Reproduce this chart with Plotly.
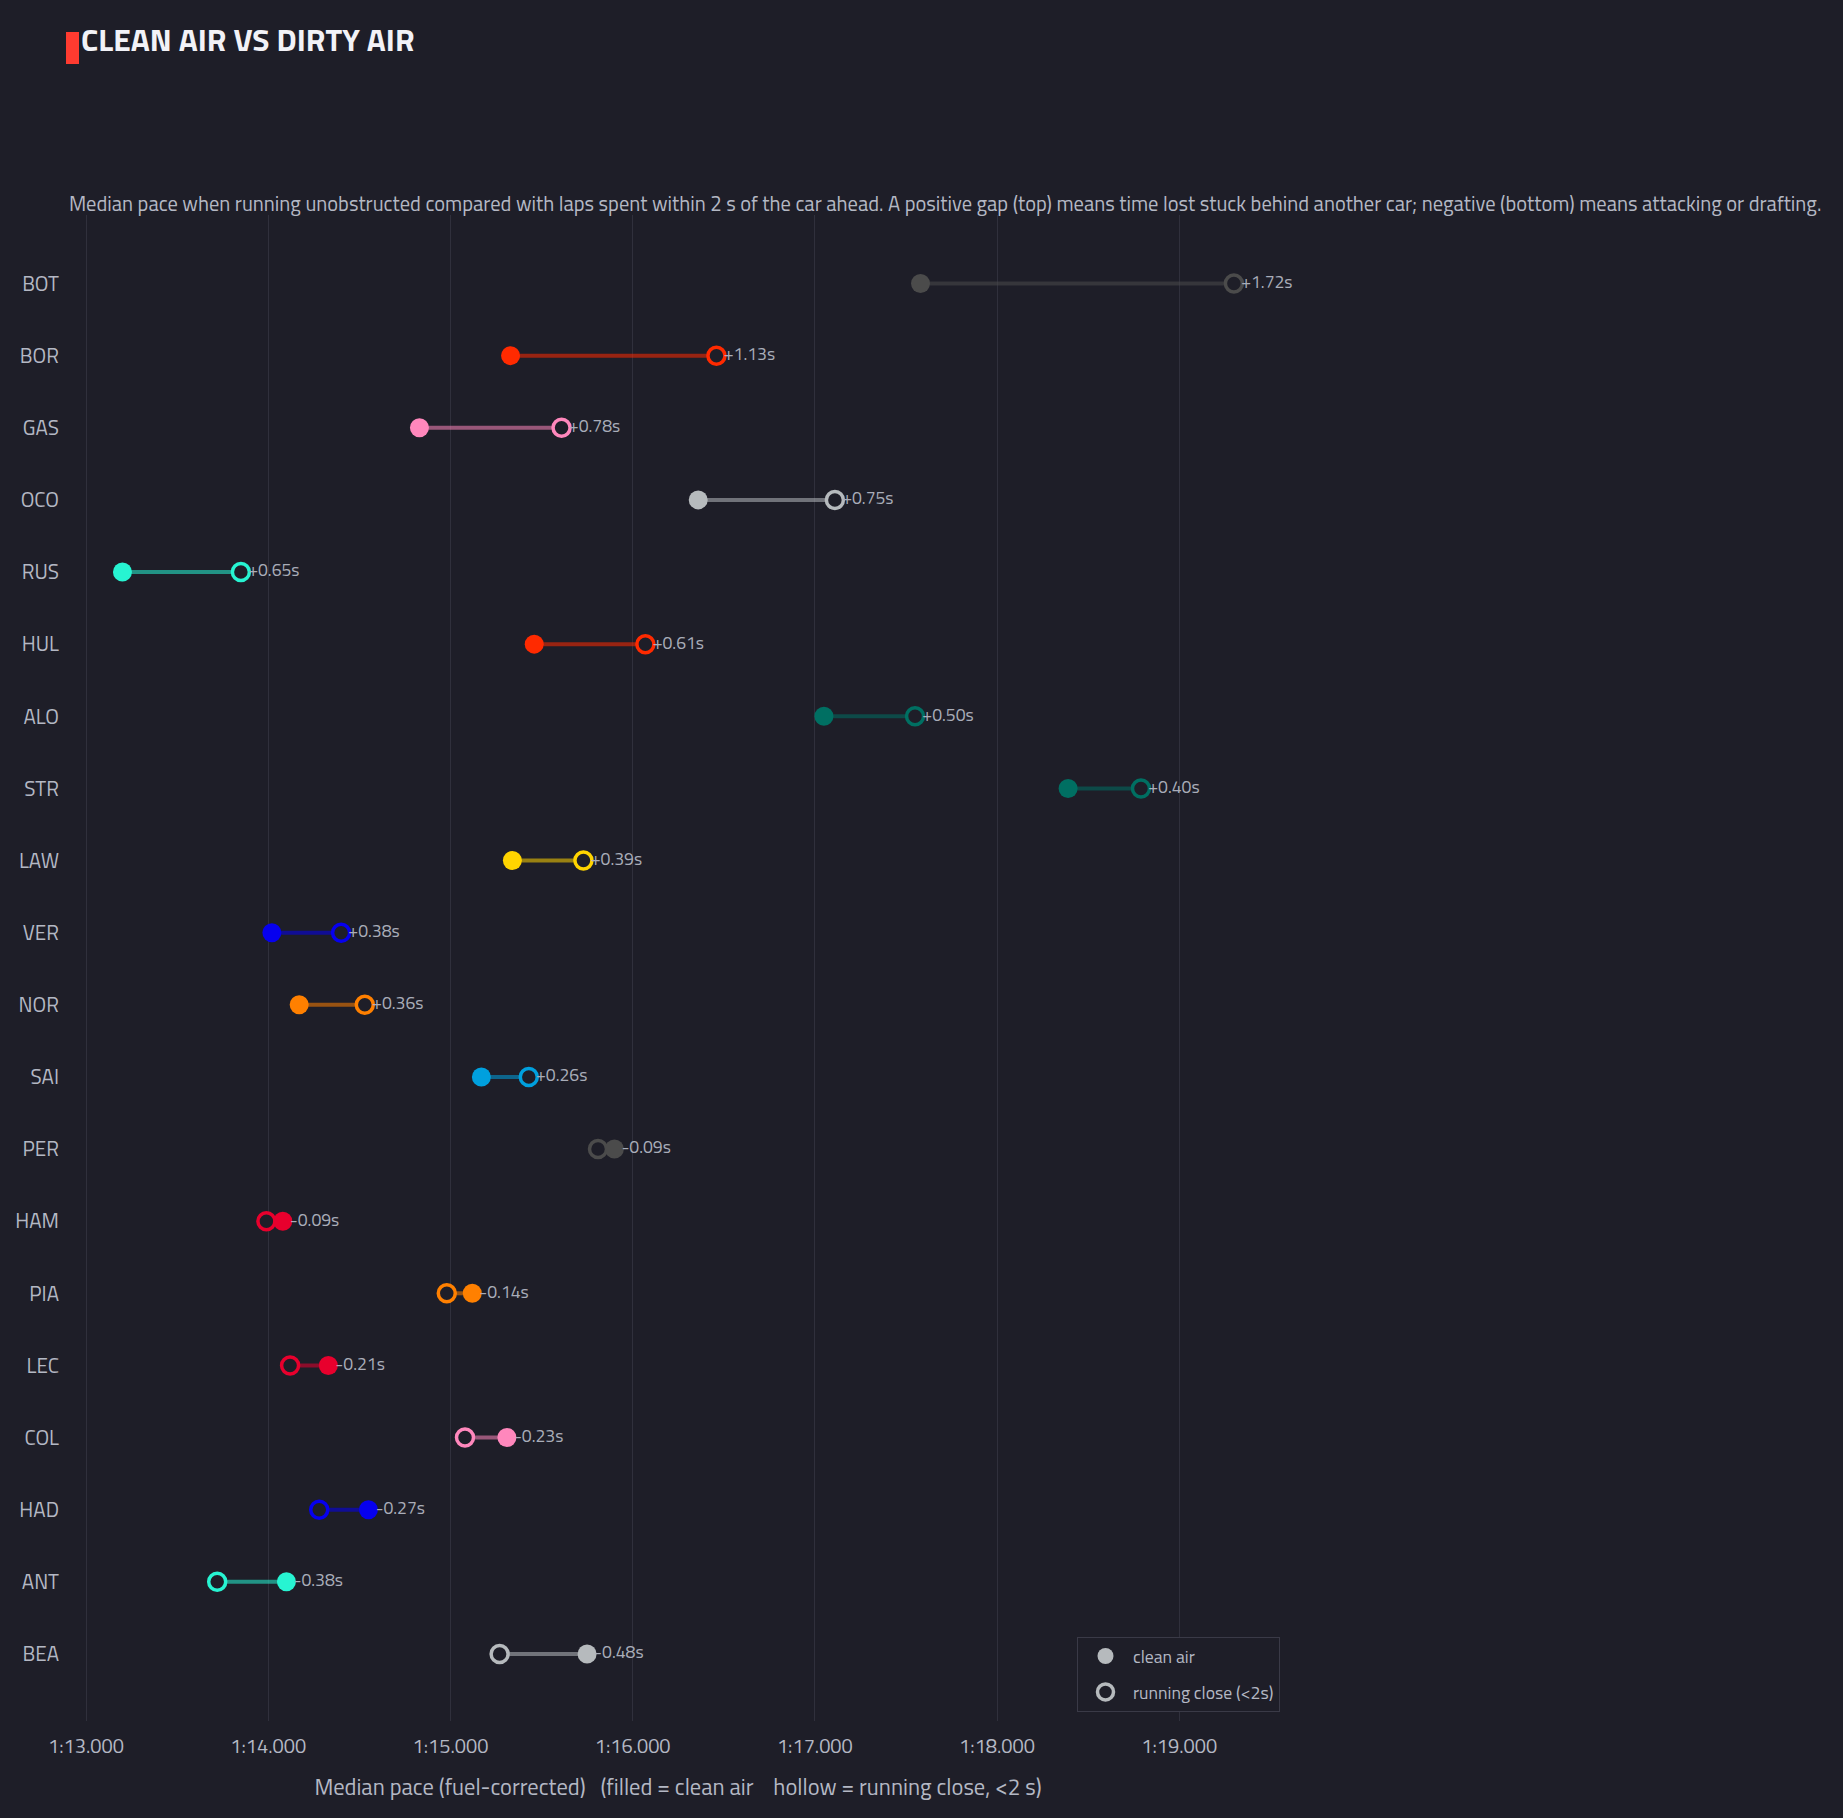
import plotly.graph_objects as go

# ---------------- data ----------------
drivers = ["BOT", "BOR", "GAS", "OCO", "RUS", "HUL", "ALO", "STR", "LAW", "VER",
           "NOR", "SAI", "PER", "HAM", "PIA", "LEC", "COL", "HAD", "ANT", "BEA"]
# median pace in seconds (fuel-corrected)
clean_pace = [77.58, 75.33, 74.83, 76.36, 73.20, 75.46, 77.05, 78.39, 75.34, 74.02,
              74.17, 75.17, 75.90, 74.08, 75.12, 74.33, 75.31, 74.55, 74.10, 75.75]
close_pace = [79.30, 76.46, 75.61, 77.11, 73.85, 76.07, 77.55, 78.79, 75.73, 74.40,
              74.53, 75.43, 75.81, 73.99, 74.98, 74.12, 75.08, 74.28, 73.72, 75.27]
team_colors = ["#4B4B4B", "#FF2A00", "#FF87BC", "#B6BABD", "#27F4D2", "#FF2A00",
               "#006F62", "#006F62", "#FFD400", "#0600EF", "#FF8000", "#00A0DE",
               "#4B4B4B", "#E8002D", "#FF8000", "#E8002D", "#FF87BC", "#0600EF",
               "#27F4D2", "#B6BABD"]
tick_vals = [73, 74, 75, 76, 77, 78, 79]
tick_text = ["1:13.000", "1:14.000", "1:15.000", "1:16.000", "1:17.000", "1:18.000", "1:19.000"]

# ---------------- style ----------------
BG = "#1e1e28"
FONT = "Titillium Web, Lato, sans-serif"
TXT = "#b4b8c4"
W, H = 1843, 1818
L, R, T, B = 76, 563, 215, 97
PW, PH = W - L - R, H - T - B


def rgba(hx, a):
    hx = hx.lstrip("#")
    r, g, b = int(hx[0:2], 16), int(hx[2:4], 16), int(hx[4:6], 16)
    return f"rgba({r},{g},{b},{a})"


fig = go.Figure()

# connecting lines
for d, c0, c1, col in zip(drivers, clean_pace, close_pace, team_colors):
    fig.add_trace(go.Scatter(x=[c0, c1], y=[d, d], mode="lines",
                             line=dict(color=rgba(col, 0.55), width=4),
                             showlegend=False, hoverinfo="skip"))

# hollow = running close
fig.add_trace(go.Scatter(x=close_pace, y=drivers, mode="markers",
                         marker=dict(size=17, color=BG,
                                     line=dict(color=team_colors, width=3.5)),
                         showlegend=False, name="running close"))
# filled = clean air
fig.add_trace(go.Scatter(x=clean_pace, y=drivers, mode="markers",
                         marker=dict(size=19, color=team_colors, line=dict(width=0)),
                         showlegend=False, name="clean air"))

# gap labels
label_x = [max(a, b) for a, b in zip(clean_pace, close_pace)]
labels = [f"{b - a:+.2f}s" for a, b in zip(clean_pace, close_pace)]
fig.add_trace(go.Scatter(x=label_x, y=drivers, mode="markers+text", text=labels,
                         textposition="middle right", cliponaxis=False,
                         marker=dict(size=10, color="rgba(0,0,0,0)"),
                         textfont=dict(size=17.6, color="#a9adb9", family=FONT),
                         showlegend=False, hoverinfo="skip"))

# legend entries
fig.add_trace(go.Scatter(x=[None], y=[None], mode="markers", name="clean air",
                         legendgroup="a",
                         marker=dict(size=19, color="#B6BABD")))
fig.add_trace(go.Scatter(x=[None], y=[None], mode="markers", name="running close (&lt;2s)",
                         legendgroup="b",
                         marker=dict(size=17, color=BG, line=dict(color="#B6BABD", width=3.5))))


def px_to_paper_x(px):
    return (px - L) / PW


def px_to_paper_y(py):
    return 1 - (py - T) / PH


SP3 = "&nbsp; &nbsp;"
SP4 = "&nbsp; &nbsp; "

fig.update_layout(
    width=W, height=H,
    paper_bgcolor=BG, plot_bgcolor=BG,
    margin=dict(l=L, r=R, t=T, b=B, autoexpand=False),
    font=dict(family=FONT, color=TXT, size=20),
    title=dict(text="<b>CLEAN AIR VS DIRTY AIR</b>", xref="container", yref="container",
               x=81 / W, xanchor="left", y=1 - 40 / H, yanchor="middle",
               font=dict(size=31.7, color="#f2f2f7", family=FONT)),
    xaxis=dict(range=[72.945, 79.553], tickmode="array", tickvals=tick_vals, ticktext=tick_text,
               showgrid=True, gridcolor="#30303c", gridwidth=1, zeroline=False,
               showline=False, ticks="", ticklabelstandoff=11,
               tickfont=dict(size=20, color=TXT),
               title=dict(text="Median pace (fuel-corrected)" + SP3 + "(filled = clean air" + SP4 +
                               "hollow = running close, &lt;2 s)",
                          standoff=19, font=dict(size=22.5, color=TXT))),
    yaxis=dict(type="category", categoryorder="array", categoryarray=drivers,
               range=[19.93, -0.95], showgrid=False, zeroline=False, showline=False,
               ticks="", ticklabelstandoff=16, tickfont=dict(size=20.7, color=TXT)),
    legend=dict(x=1, xanchor="right", y=0.006, yanchor="bottom", bgcolor=BG,
                bordercolor="#3a3a47", borderwidth=1, font=dict(size=17.7, color=TXT),
                traceorder="grouped", tracegroupgap=10, itemwidth=45),
    shapes=[dict(type="rect", xref="paper", yref="paper",
                 x0=px_to_paper_x(66), x1=px_to_paper_x(79),
                 y0=px_to_paper_y(64), y1=px_to_paper_y(32),
                 fillcolor="#ff3b30", line=dict(width=0))],
    annotations=[dict(text="Median pace when running unobstructed compared with laps spent within 2 s of the car ahead. "
                           "A positive gap (top) means time lost stuck behind another car; negative (bottom) means attacking or drafting.",
                      xref="paper", yref="paper", x=px_to_paper_x(67), y=px_to_paper_y(203),
                      xanchor="left", yanchor="middle", showarrow=False,
                      font=dict(size=20.5, color=TXT))],
    hovermode="closest",
)

fig.write_html("out.html")
